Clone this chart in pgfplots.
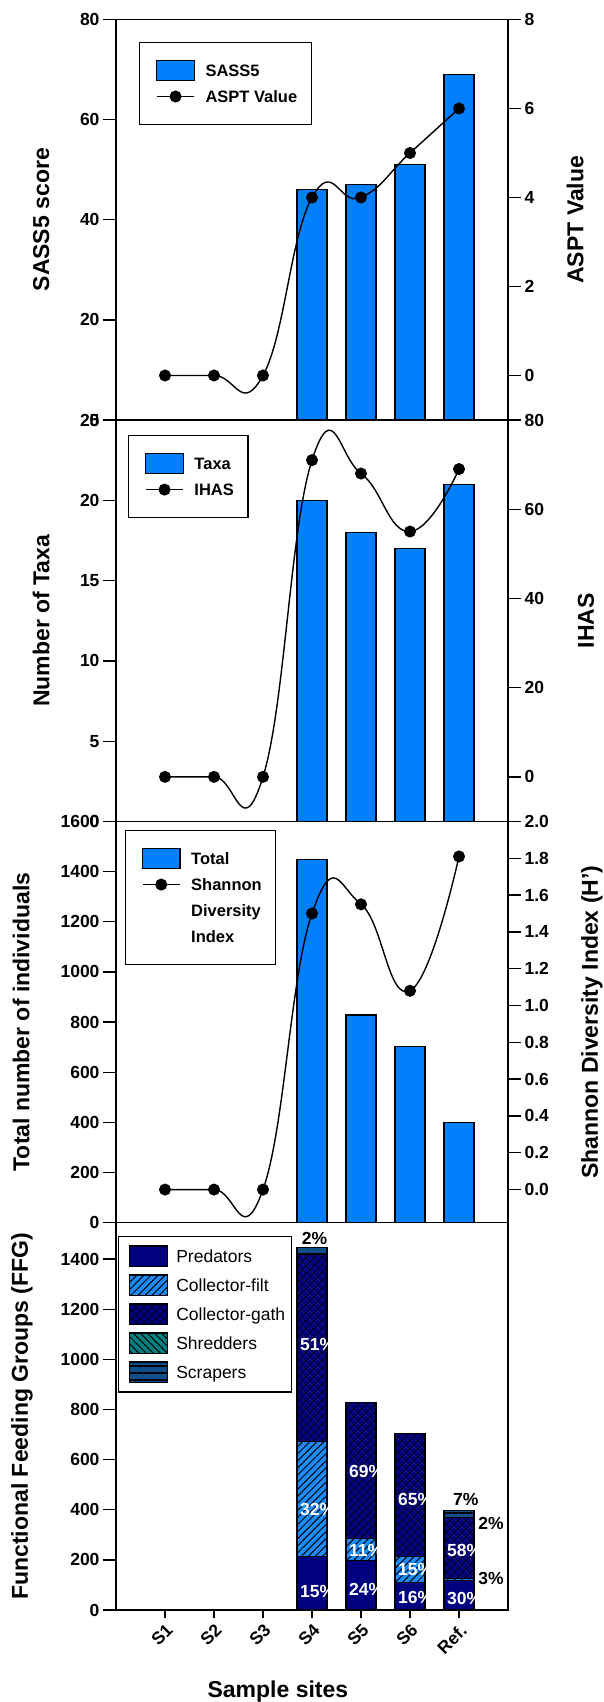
\documentclass[border=0pt]{standalone}
\usepackage{pgfplots}
\pgfplotsset{compat=1.18}
\usepackage{fontspec}
\setmainfont{Liberation Sans}
\usetikzlibrary{patterns,patterns.meta}

\definecolor{sassblue}{RGB}{0,128,255}
\definecolor{navyb}{RGB}{0,0,128}
\definecolor{filtblue}{RGB}{25,140,255}
\definecolor{tealc}{RGB}{0,128,128}
\definecolor{scrap}{RGB}{16,78,139}

\newcommand{\tfont}{\fontsize{17.5bp}{20bp}\selectfont\bfseries}
\newcommand{\lfont}{\fontsize{23bp}{26bp}\selectfont\bfseries}
\newcommand{\gfont}{\fontsize{16.5bp}{19bp}\selectfont\bfseries}
\newcommand{\gfontr}{\fontsize{17.5bp}{20bp}\selectfont}

\tikzset{
  pctw/.style={anchor=west, text=white, font=\tfont, inner sep=0pt},
  pctb/.style={text=black, font=\tfont, inner sep=0pt},
}

\pgfplotsset{
  base/.style={scale only axis, width=392bp, xmin=0, xmax=8, anchor=south west,
    axis line style={line width=1.3bp}, tick style={line width=1.3bp, black},
    tick align=outside, major tick length=13bp, xtick=\empty,
    tick label style={font=\tfont},
    /pgf/number format/assume math mode=true, /pgf/number format/1000 sep={},
    scaled y ticks=false, label style={font=\lfont}, legend cell align=left},
  barleg/.style={legend image code/.code={\path (0bp,0bp); \draw[##1, line width=1.2bp] (8.5bp,-10bp) rectangle (46bp,10bp);}},
  barlegB/.style={legend image code/.code={\path (0bp,0bp); \draw[##1, line width=1.2bp] (8.2bp,-10.3bp) rectangle (46.2bp,10.3bp);}},
  lineleg/.style={legend image code/.code={\path (0bp,0bp); \draw[mark repeat=2, mark phase=2, ##1] plot coordinates {(8.5bp,0bp) (27.25bp,0bp) (46bp,0bp)};}},
  lineplot/.style={black, line width=1.4bp, smooth, tension=0.8, mark=*, mark size=5.3bp, mark options={solid,fill=black}, lineleg},
  legA/.style={legend style={at={(rel axis cs:#1)}, anchor=north west, draw=black, line width=1.2bp, inner xsep=8bp, inner ysep=17bp, row sep=4bp, font=\gfont, nodes={text height=16bp, text depth=4bp, inner ysep=1bp, inner xsep=6bp}, /tikz/every odd column/.append style={column sep=4.5bp}}},
  barp/.style={ybar, bar width=30bp, bar shift=0pt, fill=sassblue, draw=black, line width=1.2bp},
  predS/.style={fill=navyb, draw=black, line width=1.2bp},
  filtS/.style={fill=filtblue, draw=black, line width=1.2bp, postaction={pattern={Lines[angle=45,distance=5bp,line width=1bp]}, pattern color=black}},
  gathS/.style={fill=navyb, draw=black, line width=1.2bp, postaction={pattern={Hatch[angle=45,distance=6bp,line width=0.9bp]}, pattern color=black}},
  shredS/.style={fill=tealc, draw=black, line width=1.2bp, postaction={pattern={Lines[angle=-45,distance=5bp,line width=1bp]}, pattern color=black}},
  scrapS/.style={fill=scrap, draw=black, line width=1.2bp, postaction={pattern={Lines[angle=0,distance=7bp,line width=1.2bp]}, pattern color=black}},
}

\begin{document}
\begin{tikzpicture}
\useasboundingbox (0bp,0bp) rectangle (604bp,1702bp);

% ---------------- Panel 1 ----------------
\begin{axis}[base, at={(116bp,1282bp)}, height=400.5bp, ymin=0, ymax=80,
  ytick={0,20,...,80}, ytick pos=left, ylabel={SASS5 score},
  ylabel style={at={(axis description cs:-0.191,0.5)}, anchor=center}]
\addplot[barp] coordinates {(4,46) (5,47) (6,51) (7,69)};
\end{axis}
\begin{axis}[base, at={(116bp,1282bp)}, height=400.5bp, ymin=-1, ymax=8,
  ytick={0,2,...,8}, ytick pos=right, yticklabel pos=right, ylabel={ASPT Value},
  ylabel style={at={(axis description cs:1.171,0.5)}, anchor=center},
  legA={0.0587,0.944}]
\addlegendimage{barleg, fill=sassblue, draw=black}
\addlegendentry{SASS5}
\addplot[lineplot] coordinates {(1,0) (2,0) (3,0) (4,4) (5,4) (6,5) (7,6)};
\addlegendentry{ASPT Value}
\end{axis}

% ---------------- Panel 2 ----------------
\begin{axis}[base, at={(116bp,880.5bp)}, height=401.5bp, ymin=0, ymax=25,
  ytick={0,5,...,25}, ytick pos=left, ylabel={Number of Taxa},
  ylabel style={at={(axis description cs:-0.191,0.5)}, anchor=center}]
\addplot[barp] coordinates {(4,20) (5,18) (6,17) (7,21)};
\end{axis}
\begin{axis}[base, at={(116bp,880.5bp)}, height=401.5bp, ymin=-10, ymax=80,
  ytick={0,20,...,80}, ytick pos=right, yticklabel pos=right, ylabel={IHAS},
  ylabel style={at={(axis description cs:1.199,0.5)}, anchor=center},
  legA={0.0306,0.9626}]
\addlegendimage{barleg, fill=sassblue, draw=black}
\addlegendentry{Taxa}
\addplot[lineplot] coordinates {(1,0) (2,0) (3,0) (4,71) (5,68) (6,55) (7,69)};
\addlegendentry{IHAS}
\end{axis}

% ---------------- Panel 3 ----------------
\begin{axis}[base, at={(116bp,479.3bp)}, height=401.2bp, ymin=0, ymax=1600,
  ytick={0,200,...,1600}, ytick pos=left, ylabel={Total number of individuals},
  ylabel style={at={(axis description cs:-0.242,0.5)}, anchor=center}]
\addplot[barp] coordinates {(4,1448) (5,828) (6,703) (7,398)};
\end{axis}
\begin{axis}[base, at={(116bp,479.3bp)}, height=401.2bp, ymin=-0.18, ymax=2.0,
  ytick={0,0.2,...,2.0}, ytick pos=right, yticklabel pos=right,
  ylabel={Shannon Diversity Index (H')},
  ylabel style={at={(axis description cs:1.214,0.5)}, anchor=center},
  yticklabel style={/pgf/number format/.cd, fixed, fixed zerofill, precision=1},
  legA={0.0222,0.9788}]
\addlegendimage{barleg, fill=sassblue, draw=black}
\addlegendentry{Total}
\addplot[lineplot] coordinates {(1,0) (2,0) (3,0) (4,1.50) (5,1.55) (6,1.08) (7,1.81)};
\addlegendentry{Shannon}
\addlegendimage{empty legend}
\addlegendentry{Diversity}
\addlegendimage{empty legend}
\addlegendentry{Index}
\end{axis}

% ---------------- Panel 4 ----------------
\begin{axis}[base, at={(116bp,92bp)}, height=387.3bp, ymin=0, ymax=1545,
  ytick={0,200,...,1400}, ytick pos=left, ylabel={Functional Feeding Groups (FFG)},
  ylabel style={at={(axis description cs:-0.240,0.5)}, anchor=center},
  ybar stacked, bar width=30bp,
  legend style={at={(rel axis cs:0.0046,0.9657)}, anchor=north west, draw=black, line width=1.2bp, inner xsep=2bp, inner ysep=8bp, row sep=5.5bp, font=\gfontr, nodes={text height=17bp, text depth=4.5bp, inner ysep=1bp, inner xsep=4.5bp}, /tikz/every odd column/.append style={column sep=4bp}}]
\addlegendimage{barlegB, predS}
\addlegendimage{barlegB, filtS}
\addlegendimage{barlegB, gathS}
\addlegendimage{barlegB, shredS}
\addlegendimage{barlegB, scrapS}
\addplot[predS] coordinates {(4,213) (5,199) (6,110) (7,118)};
\addplot[filtS] coordinates {(4,458) (5,87) (6,103) (7,8)};
\addplot[gathS] coordinates {(4,746) (5,542) (6,490) (7,244)};
\addplot[scrapS] coordinates {(4,30) (5,0) (6,0) (7,26)};
\legend{Predators,Collector-filt,Collector-gath,Shredders,Scrapers}
\end{axis}
\begin{axis}[base, at={(116bp,92bp)}, height=387.3bp, ymin=0, ymax=1545,
  ytick=\empty, major tick length=8bp,
  xtick={1,...,7}, xticklabels={S1,S2,S3,S4,S5,S6,Ref.}, xtick pos=bottom,
  xticklabel style={rotate=45, anchor=north east},
  xlabel={Sample sites},
  xlabel style={at={(axis description cs:0.413,-0.211)}, anchor=center}]
% percentage labels
\node[pctw] at (axis cs:3.755,73) {15\%};
\node[pctw] at (axis cs:3.755,399) {32\%};
\node[pctw] at (axis cs:3.755,1061) {51\%};
\node[pctb] at (axis cs:4.05,1484) {2\%};
\node[pctw] at (axis cs:4.755,80) {24\%};
\node[pctw] at (axis cs:4.755,239) {11\%};
\node[pctw] at (axis cs:4.755,552) {69\%};
\node[pctw] at (axis cs:5.755,48) {16\%};
\node[pctw] at (axis cs:5.755,160) {15\%};
\node[pctw] at (axis cs:5.755,439) {65\%};
\node[pctw] at (axis cs:6.755,44) {30\%};
\node[pctw] at (axis cs:6.755,237) {58\%};
\node[pctb] at (axis cs:7.14,442) {7\%};
\node[pctb, anchor=west] at (axis cs:7.39,346) {2\%};
\node[pctb, anchor=west] at (axis cs:7.39,126) {3\%};
\end{axis}
\end{tikzpicture}
\end{document}
